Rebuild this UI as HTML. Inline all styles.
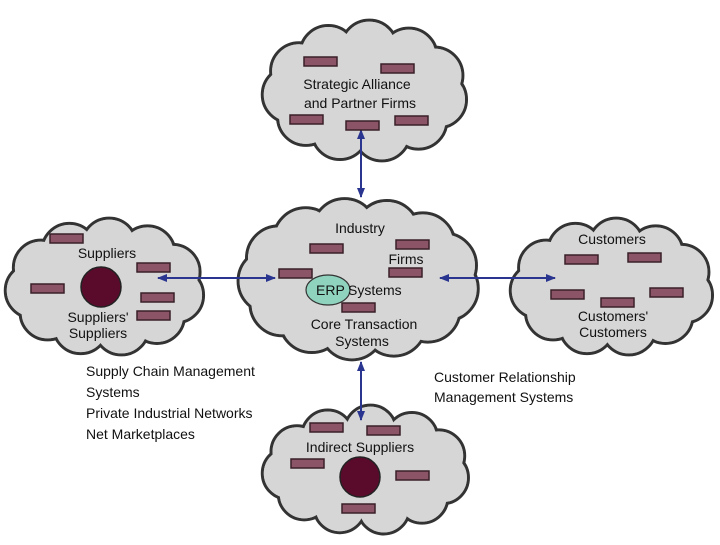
<!DOCTYPE html>
<html><head><meta charset="utf-8"><style>
html,body{margin:0;padding:0;background:#fff;}
svg text{font-family:"Liberation Sans",sans-serif;font-size:14px;fill:#111;}
</style></head><body>
<svg id="s" width="720" height="540" viewBox="0 0 720 540" xmlns="http://www.w3.org/2000/svg">
<defs>
<marker id="a" markerWidth="10" markerHeight="10" refX="9" refY="5" orient="auto-start-reverse" markerUnits="userSpaceOnUse"><path d="M0,1 L10,5 L0,9 Z" fill="#2a3590"/></marker>
</defs>
<g id="outline"></g>
<g id="fill"></g>
<g stroke="#2a3590" stroke-width="2" marker-start="url(#a)" marker-end="url(#a)">
<line x1="361" y1="130" x2="361" y2="197"/>
<line x1="361" y1="362" x2="361" y2="420"/>
<line x1="158" y1="278" x2="275" y2="278"/>
<line x1="440" y1="278" x2="555" y2="278"/>
</g>
<g fill="#8b5567" stroke="#3a2028" stroke-width="1.5">
<rect x="304" y="57" width="33" height="9"/><rect x="381" y="64" width="33" height="9"/><rect x="290" y="115" width="33" height="9"/><rect x="346" y="121" width="33" height="9"/><rect x="395" y="116" width="33" height="9"/>
<rect x="310" y="244" width="33" height="9"/><rect x="396" y="240" width="33" height="9"/><rect x="279" y="269" width="33" height="9"/><rect x="389" y="268" width="33" height="9"/><rect x="342" y="303" width="33" height="9"/>
<rect x="50" y="234" width="33" height="9"/><rect x="137" y="263" width="33" height="9"/><rect x="31" y="284" width="33" height="9"/><rect x="141" y="293" width="33" height="9"/><rect x="137" y="311" width="33" height="9"/>
<rect x="565" y="255" width="33" height="9"/><rect x="628" y="253" width="33" height="9"/><rect x="551" y="290" width="33" height="9"/><rect x="601" y="298" width="33" height="9"/><rect x="650" y="288" width="33" height="9"/>
<rect x="310" y="423" width="33" height="9"/><rect x="367" y="426" width="33" height="9"/><rect x="291" y="459" width="33" height="9"/><rect x="396" y="471" width="33" height="9"/><rect x="342" y="504" width="33" height="9"/>
</g>
<circle cx="101" cy="287" r="20" fill="#5a0a2a" stroke="#222" stroke-width="1.5"/>
<circle cx="360" cy="477" r="20" fill="#5a0a2a" stroke="#222" stroke-width="1.5"/>
<ellipse cx="328" cy="290" rx="22" ry="15" fill="#8fd3be" stroke="#333" stroke-width="1.2"/>
<text x="357" y="89" text-anchor="middle">Strategic Alliance</text>
<text x="360" y="108" text-anchor="middle">and Partner Firms</text>
<text x="360" y="233" text-anchor="middle">Industry</text>
<text x="406" y="264" text-anchor="middle">Firms</text>
<text x="316" y="295">ERP</text>
<text x="348" y="295">Systems</text>
<text x="364" y="329" text-anchor="middle">Core Transaction</text>
<text x="362" y="346" text-anchor="middle">Systems</text>
<text x="107" y="258" text-anchor="middle">Suppliers</text>
<text x="98" y="322" text-anchor="middle">Suppliers'</text>
<text x="98" y="338" text-anchor="middle">Suppliers</text>
<text x="612" y="244" text-anchor="middle">Customers</text>
<text x="613" y="321" text-anchor="middle">Customers'</text>
<text x="613" y="337" text-anchor="middle">Customers</text>
<text x="360" y="452" text-anchor="middle">Indirect Suppliers</text>
<text x="86" y="376">Supply Chain Management</text>
<text x="86" y="397">Systems</text>
<text x="86" y="418">Private Industrial Networks</text>
<text x="86" y="439">Net Marketplaces</text>
<text x="434" y="382">Customer Relationship</text>
<text x="434" y="402">Management Systems</text>
</svg>
<script>
(function(){
var NS="http://www.w3.org/2000/svg";
var o=document.getElementById("outline"),f=document.getElementById("fill");
var clouds=[[365,91,103,71,11],[359,279,121,81,13],[105,287,100,69,11],[612,287,102,69,11],[366,470,104,65,11]];
function add(g,tag,at){var e=document.createElementNS(NS,tag);for(var k in at)e.setAttribute(k,at[k]);g.appendChild(e);}
clouds.forEach(function(c){
 var cx=c[0],cy=c[1],rx=c[2],ry=c[3],n=c[4],r=Math.min(rx,ry)*0.4;
 var pts=[];
 for(var i=0;i<n;i++){var t=i*2*Math.PI/n+0.2;pts.push([cx+(rx-r)*Math.cos(t),cy+(ry-r)*Math.sin(t)]);}
 pts.forEach(function(p){add(o,"circle",{cx:p[0],cy:p[1],r:r,fill:"#d6d6d6",stroke:"#333",
 "stroke-width":3});});
 pts.forEach(function(p){add(f,"circle",{cx:p[0],cy:p[1],r:r-1.5,fill:"#d6d6d6"});});
 add(f,"ellipse",{cx:cx,cy:cy,rx:rx-r*0.9,ry:ry-r*0.9,fill:"#d6d6d6"});
});
})();
</script>
</body></html>
